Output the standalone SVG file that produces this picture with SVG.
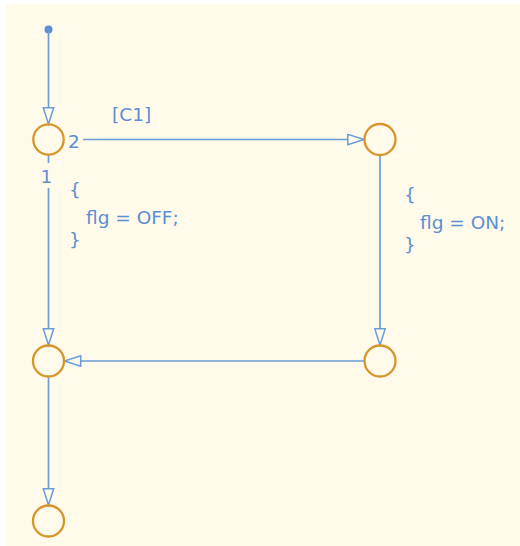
<svg xmlns="http://www.w3.org/2000/svg" width="520" height="546" viewBox="0 0 520 546">
  <style>
    .bg { fill: #fffaea; }
    .junction { fill: none; stroke: #d6952a; stroke-width: 2.3; }
    .conn { fill: none; stroke: #6a9ed6; stroke-width: 1.7; }
    .lbl { font-family: "DejaVu Sans", "Liberation Sans", sans-serif; font-size: 18.5px; fill: #5b8fd2; }
  </style>
  <defs>
    <marker id="arrow" markerUnits="userSpaceOnUse" markerWidth="20" markerHeight="14" refX="17" refY="6" orient="auto">
      <path d="M0.8,0.8 L17,6 L0.8,11.2 Z" fill="#fffaea" stroke="#6a9ed6" stroke-width="1.5" stroke-linejoin="miter"/>
    </marker>
  </defs>
  <rect x="0" y="0" width="520" height="546" fill="#ffffff"/>
  <rect class="bg" x="6" y="4" width="514" height="542"/>

  <g id="connectors">
    <circle id="default-transition-dot" cx="48.5" cy="29.5" r="4" fill="#5b8fd2"/>
    <path id="t-default" class="conn" d="M48.5,29.5 L48.5,124" marker-end="url(#arrow)"/>
    <path id="t-j1-j2" class="conn" d="M83,139.5 L364,139.5" marker-end="url(#arrow)"/>
    <path id="t-j1-j3-a" class="conn" d="M48.5,155 L48.5,163"/>
    <path id="t-j1-j3" class="conn" d="M48.5,188 L48.5,345" marker-end="url(#arrow)"/>
    <path id="t-j2-j4" class="conn" d="M380,155 L380,345" marker-end="url(#arrow)"/>
    <path id="t-j4-j3" class="conn" d="M364,361 L64.5,361" marker-end="url(#arrow)"/>
    <path id="t-j3-j5" class="conn" d="M48.5,377 L48.5,505" marker-end="url(#arrow)"/>
    <text class="lbl" x="112" y="121">[C1]</text>
    <text class="lbl" x="68" y="148">2</text>
    <text class="lbl" x="46.5" y="183" text-anchor="middle">1</text>
    <text class="lbl" x="69" y="196">{</text>
    <text class="lbl" x="86" y="224">flg = OFF;</text>
    <text class="lbl" x="69" y="246">}</text>
    <text class="lbl" x="404" y="201">{</text>
    <text class="lbl" x="420" y="229">flg = ON;</text>
    <text class="lbl" x="404" y="251">}</text>
  </g>

  <g id="junction1"><circle class="junction" cx="48.5" cy="139.5" r="15.2"/></g>
  <g id="junction2"><circle class="junction" cx="380" cy="139.5" r="15.5"/></g>
  <g id="junction3"><circle class="junction" cx="48.5" cy="361" r="15.5"/></g>
  <g id="junction4"><circle class="junction" cx="380" cy="361" r="15.5"/></g>
  <g id="junction5"><circle class="junction" cx="48.5" cy="521" r="15.5"/></g>
</svg>
